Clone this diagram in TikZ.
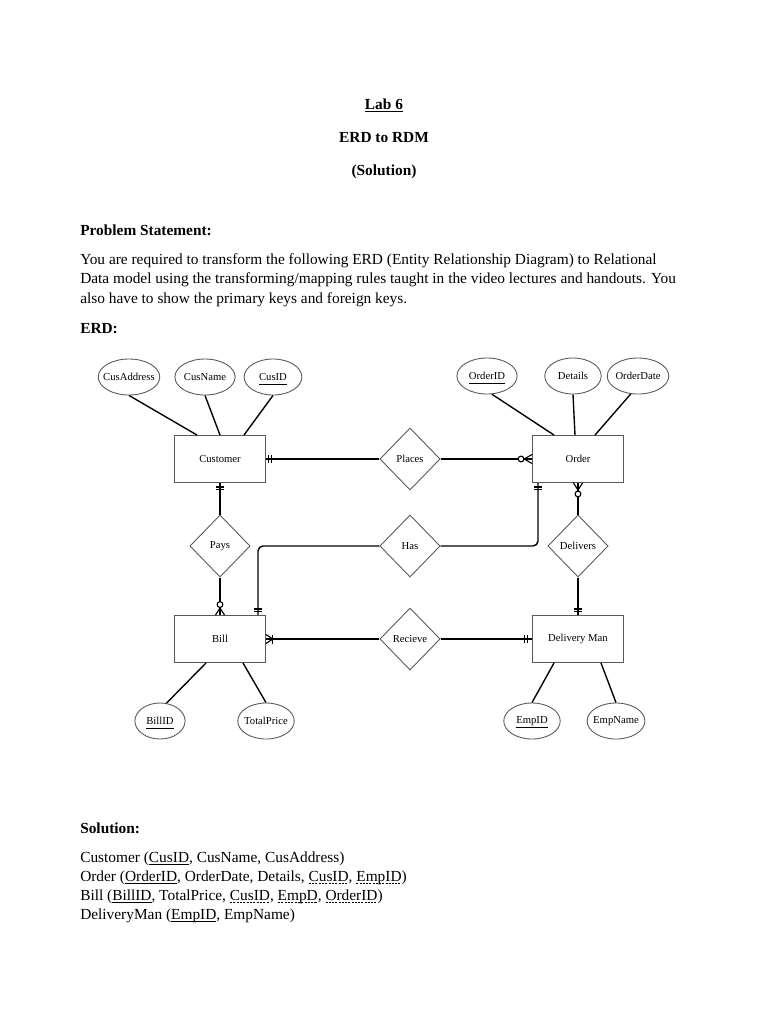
\documentclass[tikz,border=0pt]{standalone}
\usepackage{fontspec}
\setmainfont{Liberation Serif}
\usetikzlibrary{shapes.geometric,calc}
\newcommand\myul[1]{\setbox0\hbox{#1}\rlap{\raisebox{-2.2pt}[0pt][0pt]{\rule{\wd0}{0.5pt}}}#1}
\newcommand\myeul[1]{\setbox0\hbox{#1}\rlap{\raisebox{-3.6pt}[0pt][0pt]{\rule{\wd0}{0.6pt}}}#1}
\newcommand\mydul[1]{\setbox0\hbox{#1}\rlap{\raisebox{-2.2pt}[0pt][0pt]{\hbox to \wd0{\xleaders\hbox{\rule{1.6pt}{0.5pt}\hskip0.9pt}\hfill}}}#1}
\begin{document}
\begin{tikzpicture}[x=0.797pt,y=-0.797pt,
  ent/.style={draw=black!65, line width=0.7pt, minimum width=72.5pt, minimum height=37.5pt, inner sep=0pt, font=\fontsize{8.5}{9}\selectfont},
  attr/.style={ellipse, draw=black!65, line width=0.7pt, minimum height=28.7pt, inner sep=0pt, font=\fontsize{8.5}{9}\selectfont},
  rel/.style={diamond, draw=black!65, line width=0.7pt, minimum width=48pt, minimum height=49.5pt, inner sep=0pt, font=\fontsize{8.5}{9}\selectfont},
  conn/.style={draw=black, line width=1.1pt},
  alink/.style={draw=black, line width=1.1pt},
  mk/.style={draw=black, line width=0.9pt},
  body/.style={anchor=base west, inner sep=0pt, font=\fontsize{12.25}{14}\selectfont},
  ttl/.style={anchor=base, inner sep=0pt, font=\fontsize{12.25}{14}\selectfont\bfseries}
]
\useasboundingbox[fill=white] (0,0) rectangle (768,1024);

% titles
\node[ttl] (t1) at (384,109) {\myul{Lab 6}};
\node[ttl] (t2) at (384,142) {ERD to RDM};
\node[ttl] (t3) at (384,175) {(Solution)};
\node[body,font=\fontsize{12.25}{14}\selectfont\bfseries] (ps) at (80,235) {Problem Statement:};
\node[body] (p1) at (80,264) {You are required to transform the following ERD (Entity Relationship Diagram) to Relational};
\node[body] (p2) at (80,283) {Data model using the transforming/mapping rules taught in the video lectures and handouts. You};
\node[body] (p3) at (80,303) {also have to show the primary keys and foreign keys.};
\node[body,font=\fontsize{12.25}{14}\selectfont\bfseries] (erd) at (80,333) {ERD:};

% entities
\node[ent] (cust) at (220,459) {Customer};
\node[ent] (ord) at (578,459) {Order};
\node[ent] (bill) at (220,639) {Bill};
\node[ent] (dm) at (578,639) {Delivery Man};

% relationships
\node[rel] (places) at (410,459) {\makebox[0pt]{Places}};
\node[rel] (pays) at (220,546) {\makebox[0pt]{Pays}};
\node[rel] (has) at (410,546) {\makebox[0pt]{Has}};
\node[rel] (deliv) at (578,546) {\makebox[0pt]{Delivers}};
\node[rel] (rec) at (410,639) {\makebox[0pt]{Recieve}};

% attributes
\node[attr, minimum width=49pt] (cusaddr) at (129,377) {\makebox[0pt]{CusAddress}};
\node[attr, minimum width=48pt] (cusname) at (205,377) {\makebox[0pt]{CusName}};
\node[attr, minimum width=46pt] (cusid) at (273,377) {\makebox[0pt]{\myeul{CusID}}};
\node[attr, minimum width=48pt] (orderid) at (487,376) {\makebox[0pt]{\myeul{OrderID}}};
\node[attr, minimum width=45pt] (details) at (573,376) {\makebox[0pt]{Details}};
\node[attr, minimum width=49pt] (orderdate) at (638,376) {\makebox[0pt]{OrderDate}};
\node[attr, minimum width=40pt] (billid) at (160,721) {\makebox[0pt]{\myeul{BillID}}};
\node[attr, minimum width=45pt] (totalprice) at (266,721) {\makebox[0pt]{TotalPrice}};
\node[attr, minimum width=45pt] (empid) at (532,721) {\makebox[0pt]{\myeul{EmpID}}};
\node[attr, minimum width=46pt] (empname) at (616,721) {\makebox[0pt]{EmpName}};

% attribute links
\draw[alink] (cusaddr.south) -- ($(cust.north)+(-23,0)$);
\draw[alink] (cusname.south) -- (cust.north);
\draw[alink] (cusid.south) -- ($(cust.north)+(24,0)$);
\draw[alink] (orderid.-75) -- ($(ord.north)+(-24,0)$);
\draw[alink] (details.south) -- ($(ord.north)+(-3,0)$);
\draw[alink] (orderdate.-112) -- ($(ord.north)+(17,0)$);
\draw[alink] (billid.70) -- ($(bill.south)+(-14,0)$);
\draw[alink] (totalprice.north) -- ($(bill.south)+(23,0)$);
\draw[alink] (empid.north) -- ($(dm.south)+(-24,0)$);
\draw[alink] (empname.north) -- ($(dm.south)+(23,0)$);

% relationship connectors
\draw[conn] (cust) -- (places);
\draw[conn] (places) -- (ord);
\draw[conn] (cust) -- (pays);
\draw[conn] (pays) -- (bill);
\draw[conn, rounded corners=4pt] (has.west) -| ($(bill.north)+(38,0)$);
\draw[conn, rounded corners=4pt] (has.east) -| ($(ord.south)+(-40,0)$);
\draw[conn] (ord) -- (deliv);
\draw[conn] (deliv) -- (dm);
\draw[conn] (bill) -- (rec);
\draw[conn] (rec) -- (dm);

% cardinality markers
\draw[mk] ($(cust.east)+(3,-4)$) -- ++(0,8);
\draw[mk] ($(cust.east)+(5.5,-4)$) -- ++(0,8);
\draw[mk] ($(ord.west)+(-8,0)$) -- ($(ord.west)+(0,-4.5)$);
\draw[mk] ($(ord.west)+(-8,0)$) -- ($(ord.west)+(0,4.5)$);
\draw[mk, fill=white] ($(ord.west)+(-11,0)$) circle[radius=2.3pt];
\draw[mk] ($(cust.south)+(-4,4)$) -- ++(8,0);
\draw[mk] ($(cust.south)+(-4,6.5)$) -- ++(8,0);
\draw[mk] ($(bill.north)+(0,-7)$) -- ($(bill.north)+(-4.5,0)$);
\draw[mk] ($(bill.north)+(0,-7)$) -- ($(bill.north)+(4.5,0)$);
\draw[mk, fill=white] ($(bill.north)+(0,-10.5)$) circle[radius=2.3pt];
\draw[mk] ($(bill.north)+(34,-3.5)$) -- ++(8,0);
\draw[mk] ($(bill.north)+(34,-6)$) -- ++(8,0);
\draw[mk] ($(ord.south)+(-44,4)$) -- ++(8,0);
\draw[mk] ($(ord.south)+(-44,6.5)$) -- ++(8,0);
\draw[mk] ($(ord.south)+(0,7)$) -- ($(ord.south)+(-4.5,0)$);
\draw[mk] ($(ord.south)+(0,7)$) -- ($(ord.south)+(4.5,0)$);
\draw[mk, fill=white] ($(ord.south)+(0,11)$) circle[radius=2.3pt];
\draw[mk] ($(dm.north)+(-4,-3.5)$) -- ++(8,0);
\draw[mk] ($(dm.north)+(-4,-6)$) -- ++(8,0);
\draw[mk] ($(bill.east)+(7,0)$) -- ($(bill.east)+(0,-4.5)$);
\draw[mk] ($(bill.east)+(7,0)$) -- ($(bill.east)+(0,4.5)$);
\draw[mk] ($(bill.east)+(6.5,-4.5)$) -- ++(0,9);
\draw[mk] ($(dm.west)+(-5,-4)$) -- ++(0,8);
\draw[mk] ($(dm.west)+(-7.5,-4)$) -- ++(0,8);

% solution
\node[body,font=\fontsize{12.25}{14}\selectfont\bfseries] (sol) at (80,833) {Solution:};
\node[body] (s1) at (80,862) {Customer (\myul{CusID}, CusName, CusAddress)};
\node[body] (s2) at (80,881) {Order (\myul{OrderID}, OrderDate, Details, \mydul{CusID}, \mydul{EmpID})};
\node[body] (s3) at (80,900) {Bill (\myul{BillID}, TotalPrice, \mydul{CusID}, \mydul{EmpD}, \mydul{OrderID})};
\node[body] (s4) at (80,919) {DeliveryMan (\myul{EmpID}, EmpName)};
\end{tikzpicture}
\end{document}
